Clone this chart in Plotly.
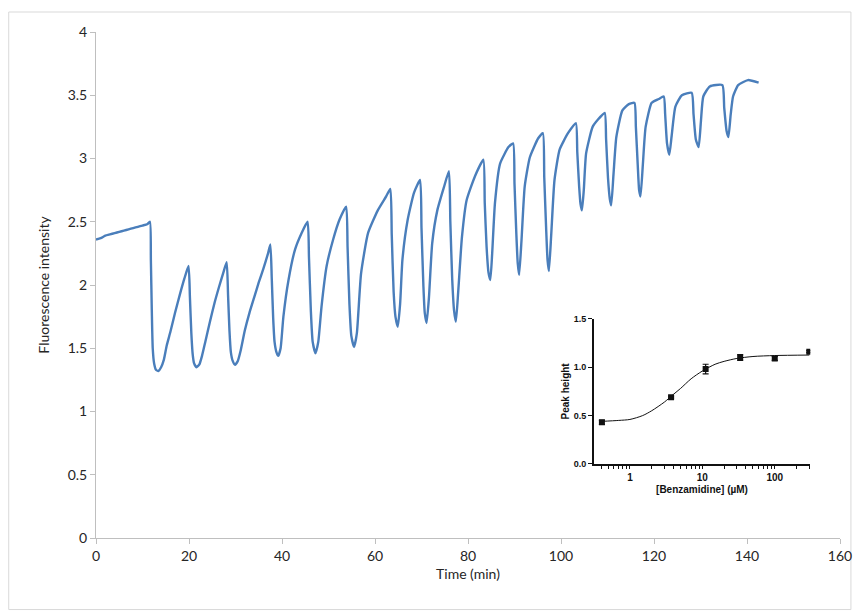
import plotly.graph_objects as go

# ---- Main trace: fluorescence vs time (min) ----
time_min = [
    0.0, 1.0, 2.0, 3.0, 4.0, 5.0, 6.0, 7.0, 8.0, 9.0, 10.0, 11.0, 11.6,
    11.8, 12.0, 12.2, 12.5, 12.9, 13.4, 14.0, 14.6,
    15.2, 16.0, 17.0, 18.0, 19.0, 19.9,
    20.2, 20.5, 20.8, 21.1, 21.6, 22.2, 22.8,
    23.5, 24.5, 25.5, 26.5, 27.4, 28.1,
    28.4, 28.7, 29.0, 29.4, 29.9, 30.5, 31.1,
    32.0, 33.0, 34.0, 35.0, 36.0, 37.0, 37.5,
    37.8, 38.1, 38.4, 38.8, 39.2, 39.7,
    40.3, 41.4, 42.8, 44.2, 45.5,
    45.8, 46.2, 46.6, 47.2, 47.8,
    48.5, 49.6, 51.0, 52.4, 53.8,
    54.1, 54.5, 54.9, 55.5, 56.1,
    57.0, 58.5, 60.6, 62.4, 63.3,
    63.6, 64.0, 64.4, 64.9, 65.4,
    65.9, 67.0, 68.4, 69.7,
    70.0, 70.4, 70.7, 71.1, 71.6,
    72.3, 73.4, 74.8, 75.9,
    76.2, 76.6, 77.0, 77.4, 77.9,
    78.7, 79.7, 81.5, 83.3,
    83.6, 84.0, 84.4, 84.8, 85.2,
    85.8, 86.9, 88.7, 89.7,
    90.0, 90.4, 90.7, 91.0, 91.5,
    92.2, 93.3, 95.1, 96.1,
    96.4, 96.8, 97.1, 97.4, 97.9,
    98.6, 99.7, 101.5, 103.2,
    103.5, 103.9, 104.2, 104.5, 104.9,
    105.4, 106.8, 108.0, 109.4,
    109.7, 110.1, 110.5, 110.8, 111.3,
    111.9, 113.2, 114.6, 115.8,
    116.1, 116.5, 116.8, 117.1, 117.6,
    118.2, 119.5, 121.0, 122.1,
    122.4, 122.8, 123.3, 123.8,
    124.6, 126.0, 128.1,
    128.5, 129.0, 129.6, 130.1,
    130.6, 132.0, 134.7,
    135.1, 135.6, 136.0, 136.5,
    137.0, 138.1, 140.2, 142.5,
]
fluorescence = [
    2.36, 2.37, 2.39, 2.40, 2.41, 2.42, 2.43, 2.44, 2.45, 2.46, 2.47, 2.48, 2.50,
    2.20, 1.80, 1.50, 1.38, 1.33, 1.32, 1.35, 1.41,
    1.52, 1.63, 1.78, 1.92, 2.05, 2.15,
    1.90, 1.62, 1.45, 1.38, 1.35, 1.37, 1.44,
    1.55, 1.71, 1.86, 1.99, 2.10, 2.18,
    1.92, 1.64, 1.47, 1.40, 1.37, 1.40, 1.48,
    1.64, 1.78, 1.90, 2.02, 2.13, 2.25, 2.32,
    2.05, 1.74, 1.55, 1.47, 1.44, 1.50,
    1.75, 2.04, 2.28, 2.41, 2.50,
    2.22, 1.80, 1.55, 1.46, 1.55,
    1.83, 2.15, 2.36, 2.52, 2.62,
    2.30, 1.85, 1.60, 1.51, 1.62,
    2.09, 2.41, 2.59, 2.70, 2.76,
    2.40, 1.95, 1.75, 1.67, 1.85,
    2.20, 2.51, 2.73, 2.83,
    2.45, 2.00, 1.78, 1.70, 1.90,
    2.33, 2.59, 2.77, 2.90,
    2.50, 2.05, 1.80, 1.71, 1.95,
    2.38, 2.67, 2.86, 2.99,
    2.65, 2.30, 2.10, 2.04, 2.25,
    2.65, 2.96, 3.09, 3.12,
    2.80, 2.40, 2.17, 2.08, 2.35,
    2.78, 3.01, 3.16, 3.20,
    2.85, 2.45, 2.20, 2.11, 2.40,
    2.83, 3.07, 3.20, 3.28,
    3.05, 2.78, 2.64, 2.59, 2.75,
    3.04, 3.25, 3.31, 3.36,
    3.15, 2.85, 2.68, 2.63, 2.88,
    3.17, 3.38, 3.43, 3.44,
    3.25, 2.95, 2.75, 2.70, 2.95,
    3.25, 3.44, 3.47, 3.49,
    3.35, 3.12, 3.03, 3.18,
    3.41, 3.50, 3.52,
    3.35, 3.15, 3.09, 3.30,
    3.49, 3.57, 3.58,
    3.40, 3.22, 3.17, 3.35,
    3.49, 3.58, 3.62, 3.60,
]

# ---- Inset: dose-response of peak height ----
benzamidine_uM = [0.41, 3.7, 11.1, 33.3, 100, 300]
peak_height = [0.43, 0.69, 0.98, 1.10, 1.09, 1.16]
peak_height_err = [0.02, 0.01, 0.05, 0.03, 0.02, 0.01]

fit_conc = [0.41, 0.7, 1, 1.5, 2, 3, 4, 5, 7, 10, 15, 20, 30, 50, 100, 300]
fit_height = [0.44, 0.45, 0.46, 0.50, 0.55, 0.64, 0.72, 0.78, 0.88, 0.96,
              1.03, 1.06, 1.09, 1.11, 1.12, 1.125]

main_x_ticks = [0, 20, 40, 60, 80, 100, 120, 140, 160]
main_y_ticks = [0, 0.5, 1, 1.5, 2, 2.5, 3, 3.5, 4]
main_y_text = ["0", "0.5", "1", "1.5", "2", "2.5", "3", "3.5", "4"]

inset_x_ticks = [0.4, 0.5, 0.6, 0.7, 0.8, 0.9, 1, 2, 3, 4, 5, 6, 7, 8, 9, 10,
                 20, 30, 40, 50, 60, 70, 80, 90, 100, 200, 300]
inset_x_text = ["<b>1</b>" if v == 1 else "<b>10</b>" if v == 10
                else "<b>100</b>" if v == 100 else ""
                for v in inset_x_ticks]
inset_y_ticks = [0.0, 0.5, 1.0, 1.5]
inset_y_text = ["<b>0.0</b>", "<b>0.5</b>", "<b>1.0</b>", "<b>1.5</b>"]

LINE_BLUE = "#4a7ebb"
AXIS_GREY = "#bfbfbf"
TEXT = "#262626"
MAIN_FONT = "Lato, Carlito, Open Sans, sans-serif"
INSET_FONT = "Liberation Sans, Arial, sans-serif"

fig = go.Figure()

fig.add_trace(go.Scatter(
    x=time_min, y=fluorescence, mode="lines",
    line=dict(color=LINE_BLUE, width=2.4, shape="spline", smoothing=0.5),
    xaxis="x", yaxis="y", showlegend=False,
))

fig.add_trace(go.Scatter(
    x=fit_conc, y=fit_height, mode="lines",
    line=dict(color="#111111", width=1, shape="spline", smoothing=0.8),
    xaxis="x2", yaxis="y2", showlegend=False,
))

fig.add_trace(go.Scatter(
    x=benzamidine_uM, y=peak_height, mode="markers",
    marker=dict(symbol="square", size=6, color="#111111"),
    error_y=dict(type="data", array=peak_height_err, visible=True,
                 color="#111111", thickness=1.2, width=3),
    xaxis="x2", yaxis="y2", showlegend=False,
))

fig.update_layout(
    width=864, height=616,
    margin=dict(l=96, r=18, t=32, b=78),
    paper_bgcolor="white", plot_bgcolor="white",
    xaxis=dict(
        range=[0, 160], tickvals=main_x_ticks,
        showgrid=False, zeroline=False,
        showline=True, linecolor=AXIS_GREY, linewidth=1,
        ticks="outside", ticklen=5, tickcolor=AXIS_GREY,
        tickfont=dict(family=MAIN_FONT, size=14, color=TEXT),
        title=dict(text="Time (min)", standoff=6,
                   font=dict(family=MAIN_FONT, size=14, color=TEXT)),
    ),
    yaxis=dict(
        range=[0, 4], tickvals=main_y_ticks, ticktext=main_y_text,
        showgrid=False, zeroline=False,
        showline=True, linecolor=AXIS_GREY, linewidth=1,
        ticks="outside", ticklen=5, tickcolor=AXIS_GREY,
        tickfont=dict(family=MAIN_FONT, size=14, color=TEXT),
        title=dict(text="Fluorescence intensity", standoff=14,
                   font=dict(family=MAIN_FONT, size=14, color=TEXT)),
    ),
    xaxis2=dict(
        type="log", range=[-0.5, 2.49], domain=[0.669, 0.96], anchor="y2",
        tickvals=inset_x_ticks, ticktext=inset_x_text,
        showgrid=False, zeroline=False,
        showline=True, linecolor="#111111", linewidth=1.5,
        ticks="outside", ticklen=3, tickcolor="#111111", tickwidth=1.2,
        tickfont=dict(family=INSET_FONT, size=10, color="#111111"),
        title=dict(text="<b>[Benzamidine] (µM)</b>", standoff=4,
                   font=dict(family=INSET_FONT, size=10, color="#111111")),
    ),
    yaxis2=dict(
        range=[0, 1.5], domain=[0.1463, 0.4333], anchor="x2",
        tickvals=inset_y_ticks, ticktext=inset_y_text,
        showgrid=False, zeroline=False,
        showline=True, linecolor="#111111", linewidth=1.5,
        ticks="outside", ticklen=4, tickcolor="#111111", tickwidth=1.2,
        tickfont=dict(family=INSET_FONT, size=9, color="#111111"),
        title=dict(text="<b>Peak height</b>", standoff=2,
                   font=dict(family=INSET_FONT, size=10, color="#111111")),
    ),
    shapes=[dict(
        type="rect", xref="paper", yref="paper",
        x0=-0.1173, x1=1.0147, y0=-0.1414, y1=1.0395,
        line=dict(color="#d9d9d9", width=1), fillcolor="rgba(0,0,0,0)",
        layer="below",
    )],
)

fig.write_html("out.html")
